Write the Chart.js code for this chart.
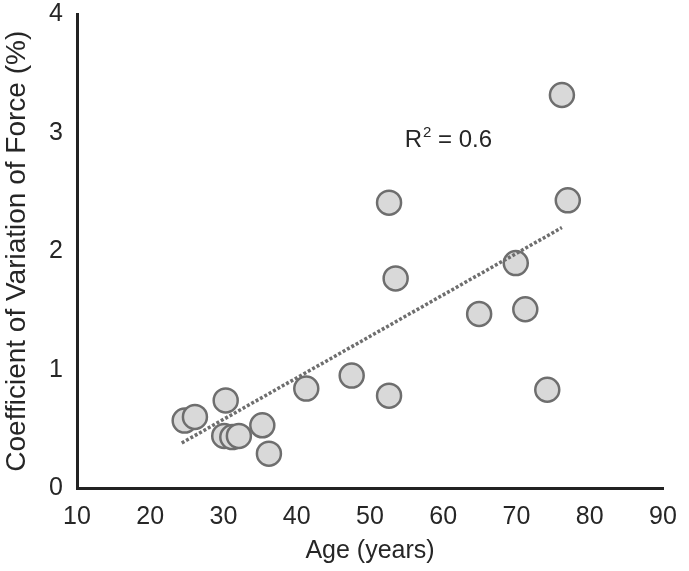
<!DOCTYPE html>
<html>
<head>
<meta charset="utf-8">
<script src="https://cdn.jsdelivr.net/npm/chart.js@4/dist/chart.umd.min.js"></script>
<style>
  html, body { margin: 0; padding: 0; background: #fff; }
  #wrap { width: 689px; height: 571px; position: relative; }
</style>
</head>
<body>
<div id="wrap"><canvas id="chart"></canvas></div>
<script>
/* ─── Data ────────────────────────────────────────────── */

const ages = [24.7, 26.1, 30.3, 30.1, 31.2, 32.1, 35.3, 36.2, 41.3, 47.5,
              52.6, 52.6, 53.5, 64.9, 69.9, 71.2, 74.2, 76.2, 77.0];
const cvForce = [0.57, 0.60, 0.74, 0.44, 0.43, 0.44, 0.53, 0.29, 0.84, 0.95,
                 0.78, 2.41, 1.77, 1.47, 1.90, 1.51, 0.83, 3.32, 2.43];

// dotted linear trend, endpoints as drawn
const trendAges = [24.3, 76.2];
const trendCv = [0.38, 2.20];

const xTicks = [10, 20, 30, 40, 50, 60, 70, 80, 90];
const yTicks = [0, 1, 2, 3, 4];

const FONT = 'Liberation Sans, Arial, sans-serif';
const TEXT = '#262626';
const AXIS = '#222222';

const toXY = (xs, ys) => xs.map((x, i) => ({ x, y: ys[i] }));

// R² annotation, placed in data space
const r2Label = {
  id: 'r2Label',
  afterDatasetsDraw(chart) {
    const { ctx, scales } = chart;
    const px = scales.x.getPixelForValue(60.7);
    const py = scales.y.getPixelForValue(2.94);
    const big = `24px ${FONT}`;
    const small = `15px ${FONT}`;
    ctx.save();
    ctx.fillStyle = TEXT;
    ctx.textBaseline = 'middle';
    ctx.textAlign = 'left';
    ctx.font = big;
    const wR = ctx.measureText('R').width;
    const wRest = ctx.measureText(' = 0.6').width;
    ctx.font = small;
    const w2 = ctx.measureText('2').width;
    const x0 = px - (wR + w2 + wRest + 1) / 2;
    ctx.font = big;
    ctx.fillText('R', x0, py);
    ctx.font = small;
    ctx.fillText('2', x0 + wR + 1, py - 7);
    ctx.font = big;
    ctx.fillText(' = 0.6', x0 + wR + w2 + 1, py);
    ctx.restore();
  },
};

new Chart(document.getElementById('chart'), {
  type: 'scatter',
  data: {
    datasets: [
      {
        label: 'Trend',
        type: 'line',
        data: toXY(trendAges, trendCv),
        borderColor: '#6e6e6e',
        borderWidth: 3.5,
        borderDash: [3, 2],
        pointRadius: 0,
        fill: false,
        order: 0,
      },
      {
        label: 'CV of force',
        data: toXY(ages, cvForce),
        backgroundColor: '#d9d9d9',
        borderColor: '#6e6e6e',
        borderWidth: 2.5,
        pointRadius: 12,
        pointHoverRadius: 12,
        order: 1,
      },
    ],
  },
  options: {
    responsive: true,
    maintainAspectRatio: false,
    animation: false,
    layout: { padding: { left: 0, right: 26, top: 14, bottom: 0 } },
    plugins: {
      legend: { display: false },
      tooltip: { enabled: false },
    },
    scales: {
      x: {
        type: 'linear',
        min: 10,
        max: 90,
        afterBuildTicks: (s) => { s.ticks = xTicks.map((v) => ({ value: v })); },
        afterFit: (s) => {
          s.height = 83;
          s.paddingLeft = 0;
          s.paddingRight = 0;
        },
        grid: { display: false, drawTicks: false },
        border: { display: true, color: AXIS, width: 3 },
        ticks: { color: TEXT, font: { family: FONT, size: 25 }, padding: 14, maxRotation: 0 },
        title: {
          display: true,
          text: 'Age (years)',
          color: TEXT,
          font: { family: FONT, size: 25 },
          padding: { top: 6, bottom: 5 },
        },
      },
      y: {
        type: 'linear',
        min: 0,
        max: 4,
        afterBuildTicks: (s) => { s.ticks = yTicks.map((v) => ({ value: v })); },
        afterFit: (s) => {
          s.width = 77;
          s.paddingTop = 0;
          s.paddingBottom = 0;
        },
        grid: { display: false, drawTicks: false },
        border: { display: true, color: AXIS, width: 3 },
        ticks: { color: TEXT, font: { family: FONT, size: 25 }, padding: 14 },
        title: {
          display: true,
          text: 'Coefficient of Variation of Force (%)',
          color: TEXT,
          font: { family: FONT, size: 28 },
          padding: { top: 0, bottom: 0 },
        },
      },
    },
  },
  plugins: [r2Label],
});
</script>
</body>
</html>
